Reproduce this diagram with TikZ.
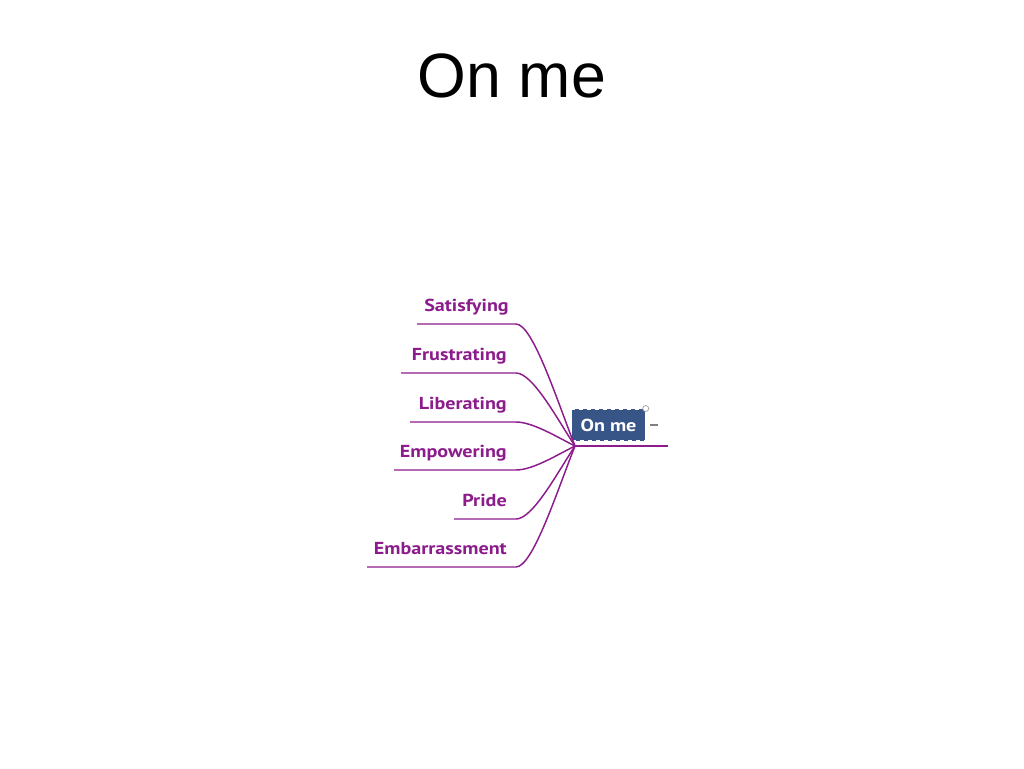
\documentclass[tikz,border=0pt]{standalone}
\usepackage{fontspec}
\setmainfont{Liberation Sans}
\newfontfamily\brfont[FakeStretch=1.16]{PT Sans}
\begin{document}
\begin{tikzpicture}[x=0.75pt,y=-0.75pt,
  lbl/.style={anchor=base east,inner sep=0pt,text=brpurple,font=\brfont\bfseries\fontsize{13}{15}\selectfont},
  branch/.style={draw=brpurple,line width=1.1pt},
  hubbox/.style={fill=hubblue,draw=white,dashed,line width=0.8pt,minimum width=55pt,minimum height=24pt,inner sep=0pt,text=white,font=\brfont\bfseries\fontsize{13}{15}\selectfont}]
\definecolor{brpurple}{RGB}{140,28,140}
\definecolor{hubblue}{RGB}{55,85,135}
\useasboundingbox[fill=white] (0,0) rectangle (1024,768);
\node[anchor=base,font=\fontsize{47}{56}\selectfont] (title) at (512,97) {On me};
\coordinate (hub) at (575,446);
\node[hubbox] (onme) at (608.5,425) {On me};
\draw[gray!70,line width=0.6pt,fill=white] (onme.north east) circle (3);
\draw[gray,line width=1pt] (650,425) -- (658,425);
\coordinate (hr) at (668,446);
\draw[branch] (hub) -- (hr);
\foreach \nm/\txt/\y/\xs/\xe in {s/Satisfying/324/417/509, f/Frustrating/373/401/507, l/Liberating/422/410/507, e/Empowering/470/394/507, p/Pride/519/454/507, b/Embarrassment/567/367/507}{
  \node[lbl] (\nm) at (\xe,\y-13) {\txt};
  \coordinate (\nm s) at (\xs,\y);
  \coordinate (\nm e) at (516,\y);
  \draw[branch] (\nm s) -- (\nm e) .. controls (533,\y) and (558,{446+(\y-446)*0.35}) .. (hub);
}
\end{tikzpicture}
\end{document}
